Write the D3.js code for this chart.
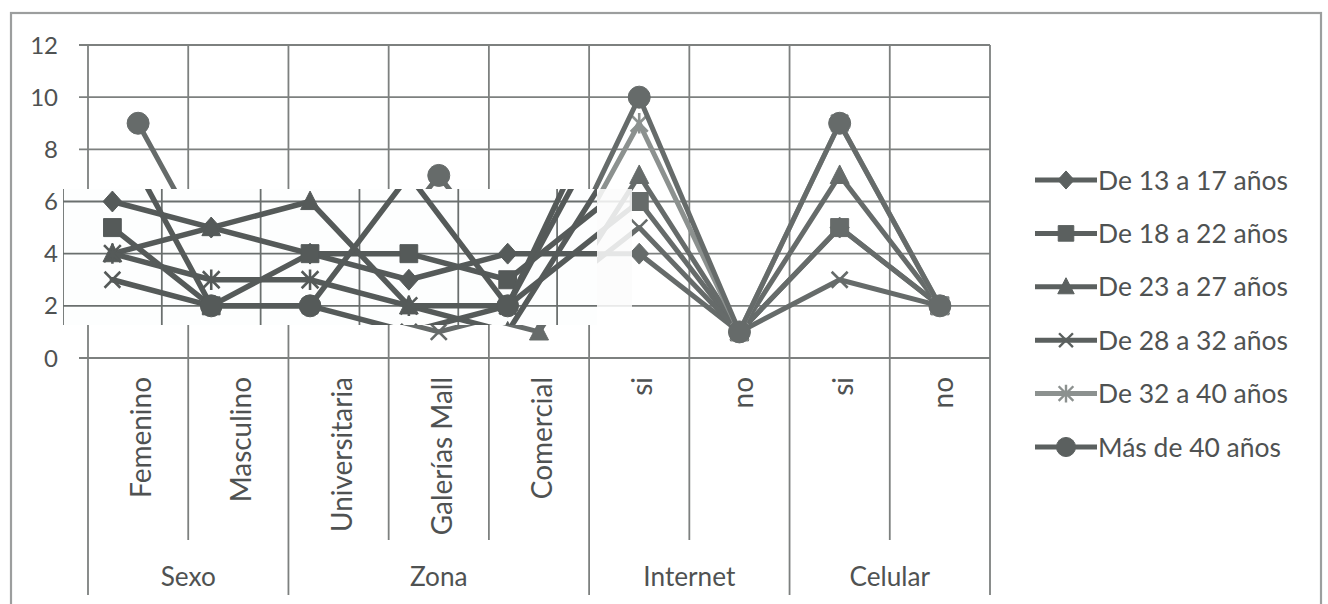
<!DOCTYPE html>
<html><head><meta charset="utf-8">
<script src="https://cdn.jsdelivr.net/npm/d3@7"></script>
<style>
body{margin:0;background:#fff;}
text{font-family:Lato,"Liberation Sans",sans-serif;fill:#4f5252;}
</style>
</head><body>
<svg id="chart" width="1328" height="604"></svg>
<script>
// ---------- DATA ----------
const categories = ["Femenino","Masculino","Universitaria","Galerías Mall","Comercial","si","no","si","no"];
const groups = ["Sexo","Zona","Internet","Celular"];
const groupSizes = [2,3,2,2];
const seriesNames = ["De 13 a 17 años","De 18 a 22 años","De 23 a 27 años","De 28 a 32 años","De 32 a 40 años","Más de 40 años"];
const s13_17 = [6,5,4,3,4,4,1,5,2];
const s18_22 = [5,2,4,4,3,6,1,5,2];
const s23_27 = [4,5,6,2,1,7,1,7,2];
const s28_32 = [3,2,2,1,2,5,1,3,2];
const s32_40 = [4,3,3,2,2,9,1,9,2];
const s40plus = [9,2,2,7,2,10,1,9,2];
const yTicks = [0,2,4,6,8,10,12];

// ---------- SETUP ----------
const svg = d3.select("#chart");
const PL = 88, PR = 990, PT = 45, PB = 358;
const x = d3.scaleBand().domain(d3.range(categories.length)).range([PL, PR]).paddingInner(0).paddingOuter(0);
const bw = x.bandwidth();
const cx = i => x(i) + bw / 2;
const y = d3.scaleLinear().domain([0, 12]).range([PB, PT]);

// custom marker shapes (size = (2r)^2)
const R = s => Math.sqrt(s) / 2;
const symDiamond = {draw(c, s){const r=R(s); c.moveTo(0,-r*1.1); c.lineTo(r,0); c.lineTo(0,r*1.1); c.lineTo(-r,0); c.closePath();}};
const symSquare = {draw(c, s){const r=R(s); c.rect(-r,-r,2*r,2*r);}};
const symTriangle = {draw(c, s){const r=R(s); c.moveTo(0,-r*1.1); c.lineTo(r,r*0.85); c.lineTo(-r,r*0.85); c.closePath();}};
const symX = {draw(c, s){const r=R(s); c.moveTo(-r,-r); c.lineTo(r,r); c.moveTo(r,-r); c.lineTo(-r,r);}};
const symAst = {draw(c, s){const r=R(s); c.moveTo(-r,-r); c.lineTo(r,r); c.moveTo(r,-r); c.lineTo(-r,r); c.moveTo(0,-r*1.2); c.lineTo(0,r*1.2);}};
const symCircle = {draw(c, s){const r=R(s); c.moveTo(r,0); c.arc(0,0,r,0,2*Math.PI);}};

const series = [
  {name: seriesNames[0], values: s13_17, type: symDiamond, size: 19*19, fill: true},
  {name: seriesNames[1], values: s18_22, type: symSquare, size: 18*18, fill: true},
  {name: seriesNames[2], values: s23_27, type: symTriangle, size: 19*19, fill: true},
  {name: seriesNames[3], values: s28_32, type: symX, size: 16*16, fill: false},
  {name: seriesNames[4], values: s32_40, type: symAst, size: 17*17, fill: false, light: true},
  {name: seriesNames[5], values: s40plus, type: symCircle, size: 22*22, fill: true}
];

function drawPlot(g, opt) {
  g.append("g").selectAll("line").data(yTicks).join("line")
    .attr("x1", PL - 9).attr("x2", PR).attr("y1", d => y(d)).attr("y2", d => y(d))
    .attr("stroke", opt.grid).attr("stroke-width", 1.8);
  const bounds = d3.range(categories.length + 1).map(i => i < categories.length ? x(i) : x(i - 1) + bw);
  g.append("g").selectAll("line").data(bounds).join("line")
    .attr("x1", d => d).attr("x2", d => d).attr("y1", PT).attr("y2", PB)
    .attr("stroke", opt.grid).attr("stroke-width", 1.8);
  const line = d3.line().x((d, i) => cx(i)).y(d => y(d));
  series.forEach(s => {
    const col = s.light ? opt.light : opt.dark;
    g.append("path").datum(s.values).attr("d", line)
      .attr("fill", "none").attr("stroke", col).attr("stroke-width", opt.lw)
      .attr("stroke-linejoin", "round").attr("stroke-linecap", "round");
    g.append("g").selectAll("path").data(s.values).join("path")
      .attr("transform", (d, i) => `translate(${cx(i)},${y(d)})`)
      .attr("d", d3.symbol().type(s.type).size(s.size))
      .attr("fill", s.fill ? col : "none")
      .attr("stroke", col).attr("stroke-width", s.fill ? 1 : 2.6);
  });
}

// outer chart border
svg.append("rect").attr("x", 11).attr("y", 13).attr("width", 1310).attr("height", 640)
  .attr("fill", "none").attr("stroke", "#9c9e9e").attr("stroke-width", 2.2);

// main plot
drawPlot(svg.append("g"), {grid: "#7d807f", dark: "#666b6a", light: "#8c918f", lw: 5});

// y tick labels
const yl = svg.append("g").selectAll("text").data(yTicks).join("text")
  .attr("x", 58).attr("y", d => y(d)).attr("dy", "0.36em").attr("text-anchor", "end")
  .attr("font-size", 24).text(d => d);

// x axis separators
const starts = []; let acc = 0;
groupSizes.forEach(n => { starts.push(acc); acc += n; });
const groupBounds = starts.concat([categories.length]);
const allBounds = d3.range(categories.length + 1);
svg.append("g").selectAll("line").data(allBounds).join("line")
  .attr("x1", i => PL + i * bw).attr("x2", i => PL + i * bw)
  .attr("y1", PB).attr("y2", i => groupBounds.includes(i) ? 595 : 540)
  .attr("stroke", "#7d807f").attr("stroke-width", 1.8);

// category labels (rotated)
const catT = svg.append("g").selectAll("text").data(categories).join("text")
  .attr("transform", (d, i) => `translate(${cx(i) + 3},377) rotate(-90)`)
  .attr("text-anchor", "end").attr("dy", "0.36em").attr("font-size", 28).text(d => d);

// group labels
const grpT = svg.append("g").selectAll("text").data(groups).join("text")
  .attr("x", (d, i) => PL + (starts[i] + groupSizes[i] / 2) * bw)
  .attr("y", 577).attr("dy", "0.36em").attr("text-anchor", "middle")
  .attr("font-size", 24).text(d => d);

// legend
const lg = svg.append("g");
series.forEach((s, k) => {
  const ly = 180 + k * 53.4;
  const col = s.light ? "#8c918f" : "#5b605f";
  lg.append("line").attr("x1", 1035).attr("x2", 1097).attr("y1", ly).attr("y2", ly)
    .attr("stroke", col).attr("stroke-width", 5);
  lg.append("path").attr("transform", `translate(1066,${ly})`)
    .attr("d", d3.symbol().type(s.type).size(s.size * 0.75))
    .attr("fill", s.fill ? col : "none").attr("stroke", col).attr("stroke-width", s.fill ? 1 : 2.4);
  lg.append("text").attr("class", "lgt").attr("x", 1098).attr("y", ly).attr("dy", "0.36em")
    .attr("font-size", 26).text(s.name);
});

// fit font sizes to reference text widths
function fitAll(sel, refIdx, target) {
  const n = sel.nodes()[refIdx];
  const fs = parseFloat(d3.select(n).attr("font-size"));
  const w = n.getComputedTextLength();
  if (w > 0) sel.attr("font-size", (fs * target / w).toFixed(2));
}
fitAll(catT, 2, 155);
fitAll(grpT, 2, 92);
fitAll(lg.selectAll("text.lgt"), 0, 190);

// ---------- scan overlay (shifted copy of the plot band) ----------
const OX0 = 63, OX1 = 597, OY0 = 189, OY1 = 325, K = 0.986;
svg.append("rect").attr("x", OX0).attr("y", OY0).attr("width", OX1 - OX0).attr("height", OY1 - OY0).attr("fill", "#fdfefe");
svg.append("rect").attr("x", OX1).attr("y", OY0).attr("width", 35).attr("height", OY1 - OY0 - 18).attr("fill", "#fbfcfc").attr("opacity", 0.85);
svg.append("defs").append("clipPath").attr("id", "ovclip").append("rect")
  .attr("x", OX0).attr("y", OY0).attr("width", OX1 - OX0).attr("height", OY1 - OY0);
const ov = svg.append("g").attr("clip-path", "url(#ovclip)")
  .append("g").attr("transform", `translate(${OX0 - PL * K},0) scale(${K},1)`);
drawPlot(ov, {grid: "#6a6f6e", dark: "#555a59", light: "#555a59", lw: 5.5});
</script>
</body></html>
